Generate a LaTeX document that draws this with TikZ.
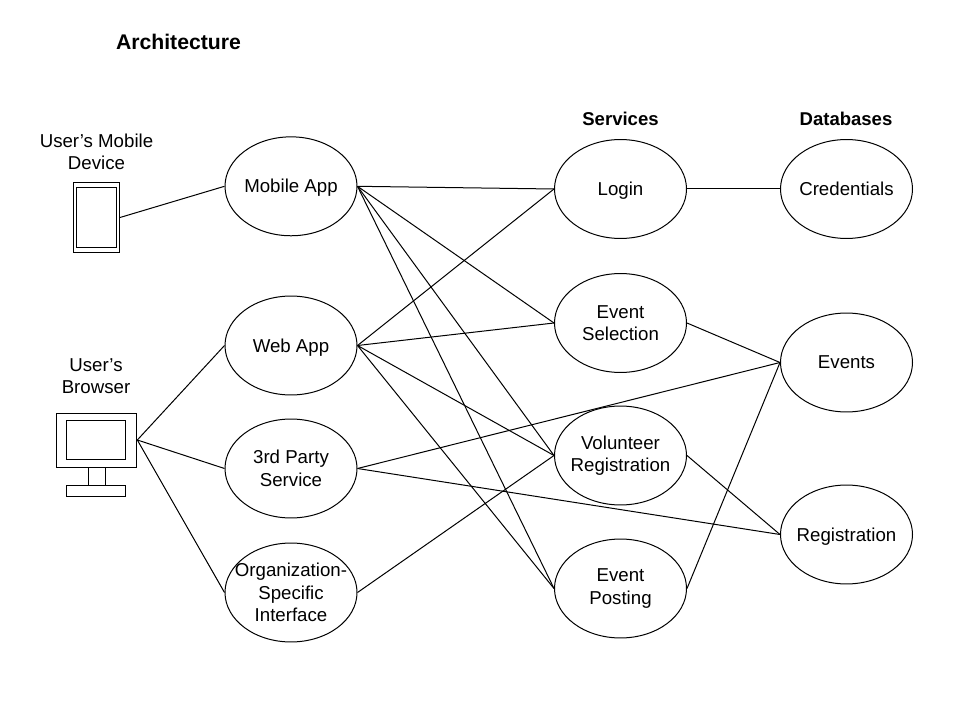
\documentclass[tikz,border=0pt]{standalone}
\usepackage{fontspec}
\setmainfont{Liberation Sans}
\usetikzlibrary{shapes.geometric}

\begin{document}
\begin{tikzpicture}[x=0.75pt,y=-0.75pt,line width=0.75pt,
                    every node/.style={font=\fontsize{14}{16.8}\selectfont,align=center},
                    bubble/.style={draw,ellipse,inner sep=-30pt,minimum width=99pt,minimum height=74.2pt,
                                   execute at begin node={\rule{0pt}{#1}}},
                    bubble/.default=12.7pt,
                    box/.style={draw,rectangle,inner sep=0pt},
                    heading/.style={font=\fontsize{13.9}{16.8}\selectfont\bfseries}]
                    \useasboundingbox (0,0) rectangle (960,720);
                    \node[font=\fontsize{15.9}{19}\selectfont\bfseries] (title) at (178.5,42) {Architecture};
                    \node[heading] (services) at (620.5,118.5) {Services};
                    \node[heading] (databases) at (846,118.5) {Databases};

                    % devices
                    \node (mobilelabel) at (96.5,152) {User's Mobile\\Device};
                    \node[box,minimum width=34.5pt,minimum height=52.5pt] (mobile) at (96.5,217.5) {};
                    \node[box,minimum width=30pt,minimum height=45pt] (mobilescreen) at (96.5,217.5) {};
                    \node (browserlabel) at (96,376) {User's\\Browser};
                    \node[box,minimum width=60.5pt,minimum height=40.5pt] (monitor) at (96.5,440) {};
                    \node[box,minimum width=44.5pt,minimum height=29.25pt] (screen) at (96,439.5) {};
                    \node[box,minimum width=12.75pt,minimum height=13.5pt] (stem) at (96.5,476) {};
                    \node[box,minimum width=44.5pt,minimum height=8.25pt] (foot) at (96,490.5) {};

                    % clients
                    \node[bubble] (app) at (291,186.3) {Mobile App};
                    \node[bubble] (web) at (291,345.5) {Web App};
                    \node[bubble] (party) at (291,468.5) {3rd Party\\Service};
                    \node[bubble] (org) at (291,592.5) {Organization-\\Specific\\Interface};

                    % services
                    \node[bubble] (login) at (620.5,189) {Login};
                    \node[bubble] (selection) at (620.5,323) {Event\\Selection};
                    \node[bubble=15pt] (volunteer) at (620.5,455.5) {Volunteer\\Registration};
                    \node[bubble=15pt] (posting) at (620.5,588.5) {Event\\Posting};

                    % databases
                    \node[bubble,text depth=3pt] (credentials) at (846.5,189) {Credentials};
                    \node[bubble,text depth=3pt] (events) at (846.5,362.5) {Events};
                    \node[bubble] (registration) at (846.5,534.5) {Registration};

                    \draw (mobile.east) -- (app.west);
                    \draw (monitor.east) -- (web.west);
                    \draw (monitor.east) -- (party.west);
                    \draw (monitor.east) -- (org.west);

                    \draw (app.east) -- (login.west);
                    \draw (app.east) -- (selection.west);
                    \draw (app.east) -- (volunteer.west);
                    \draw (app.east) -- (posting.west);
                    \draw (web.east) -- (login.west);
                    \draw (web.east) -- (selection.west);
                    \draw (web.east) -- (volunteer.west);
                    \draw (web.east) -- (posting.west);
                    \draw (party.east) -- (events.west);
                    \draw (party.east) -- (registration.west);
                    \draw (org.east) -- (volunteer.west);

                    \draw (login.east) -- (credentials.west);
                    \draw (selection.east) -- (events.west);
                    \draw (volunteer.east) -- (registration.west);
                    \draw (posting.east) -- (events.west);
\end{tikzpicture}
\end{document}
